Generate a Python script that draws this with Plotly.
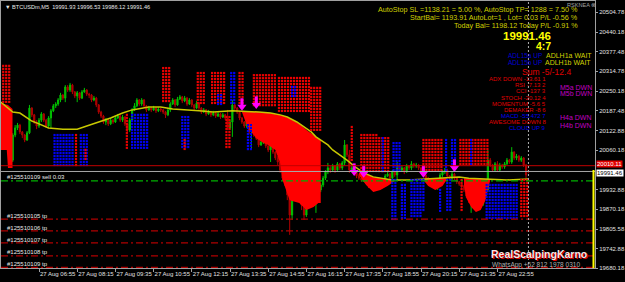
import plotly.graph_objects as go

# ---------------- data ----------------
close = [20093,20077,20099,20061,20028,20109,20132,20141,20119,20109,
 20093,20116,20196,20174,20151,20138,20157,20177,20157,20138,
 20164,20187,20203,20209,20222,20238,20228,20264,20254,20270,
 20248,20235,20245,20228,20248,20254,20241,20238,20222,20228,
 20206,20183,20170,20151,20157,20145,20157,20151,20164,20170,
 20157,20167,20145,20125,20157,20190,20203,20222,20209,20222,
 20203,20190,20196,20190,20196,20187,20193,20190,20183,20174,
 20190,20209,20222,20206,20225,20232,20219,20228,20209,20222,
 20206,20196,20212,20196,20183,20190,20177,20183,20174,20180,
 20170,20177,20167,20174,20164,20132,20151,20206,20196,20183,
 20164,20151,20138,20157,20119,20132,20109,20099,20077,20086,
 20093,20074,20061,20077,20054,20035,20022,19996,19970,19958,
 19916,19851,19990,19948,19916,19996,19883,19851,19916,19899,
 19916,19899,19958,19932,19948,19970,19990,20003,19996,20009,
 19996,20016,20003,20019,20077,20045,19996,20003,19990,19977,
 19970,19964,19977,19964,19945,19958,19938,19951,19964,19948,
 19964,19977,19983,19970,19990,19980,20009,19996,20003,19990,
 20009,20003,20016,20009,20012,20003,19990,19980,19970,19958,
 19951,19964,19945,19958,19980,19990,19996,19977,19970,19983,
 19970,19958,19951,19945,19932,19912,19899,19925,19906,19883,
 19899,19886,19912,19932,20028,20012,19996,20016,19996,20012,
 20006,20016,20028,20022,20054,20035,20041,20028,20035,20012,
 19980,19991.46]
high = [20106,20102,20106,20104,20067,20115,20141,20148,20145,20122,
 20112,20122,20206,20199,20177,20157,20164,20183,20180,20161,
 20170,20193,20209,20215,20228,20245,20241,20270,20270,20277,
 20274,20251,20251,20248,20254,20261,20257,20245,20241,20235,
 20232,20209,20187,20174,20164,20161,20164,20161,20170,20177,
 20174,20174,20170,20148,20164,20196,20212,20228,20225,20228,
 20225,20206,20203,20199,20203,20199,20199,20196,20193,20187,
 20196,20215,20228,20225,20232,20238,20235,20235,20232,20228,
 20225,20209,20219,20215,20199,20196,20193,20190,20187,20187,
 20183,20183,20180,20180,20177,20190,20157,20222,20212,20199,
 20187,20167,20154,20164,20161,20138,20135,20112,20103,20093,
 20099,20096,20077,20083,20080,20057,20041,20028,20000,19977,
 19964,19922,20006,19996,19954,20019,20000,19890,19925,19922,
 19922,19925,19974,19964,19954,19977,19996,20019,20009,20016,
 20012,20022,20019,20025,20093,20080,20061,20009,20006,19993,
 19983,19974,19983,19980,19967,19964,19961,19958,19970,19967,
 19970,19983,19990,19987,19996,19993,20022,20012,20009,20006,
 20016,20012,20025,20019,20019,20016,20006,19993,19983,19974,
 19961,19970,19967,19964,19987,19996,20003,20000,19980,19990,
 19987,19974,19961,19954,19948,19935,19916,19932,19928,19909,
 19906,19903,19919,19938,20061,20035,20016,20022,20025,20019,
 20016,20022,20035,20032,20070,20057,20048,20045,20041,20038,
 20016,19996.53]
low = [20070,20070,20070,20051,20003,20022,20102,20125,20112,20099,
 20086,20090,20112,20167,20145,20128,20132,20151,20151,20132,
 20135,20132,20183,20196,20203,20215,20222,20215,20248,20248,
 20241,20228,20215,20222,20225,20245,20235,20228,20215,20218,
 20199,20177,20164,20145,20141,20138,20141,20145,20148,20161,
 20151,20151,20138,20116,20119,20151,20187,20199,20203,20203,
 20196,20183,20187,20183,20187,20180,20183,20183,20177,20164,
 20170,20183,20206,20199,20203,20222,20212,20215,20203,20206,
 20199,20190,20193,20190,20177,20180,20170,20174,20167,20170,
 20164,20167,20161,20164,20157,20125,20125,20103,20190,20177,
 20157,20145,20132,20132,20112,20061,20103,20093,20070,20074,
 20080,20067,20054,20022,20048,20028,20012,19987,19961,19945,
 19899,19787,19835,19938,19906,19909,19867,19835,19845,19890,
 19883,19886,19858,19925,19925,19941,19964,19983,19987,19990,
 19987,19990,19996,19996,20012,20038,19987,19990,19983,19970,
 19964,19958,19958,19958,19938,19935,19932,19932,19945,19941,
 19945,19961,19974,19964,19967,19974,19964,19990,19990,19983,
 19987,19996,19996,20003,20003,19996,19983,19974,19964,19951,
 19945,19945,19938,19932,19954,19974,19983,19970,19964,19964,
 19964,19951,19945,19938,19925,19906,19890,19858,19899,19870,
 19877,19877,19880,19906,19925,20006,19990,19990,19990,19993,
 20000,20000,20012,20016,20016,20028,20028,20022,20022,20006,
 19970,19986.12]
first_open = 20080
last_open = 19991.93

ma_idx = [0,5,8,11,13,16,20,26,32,36,41,46,51,55,62,67,72,79,83,89,97,108,113,117,120,124,127,130,132,134,
          137,139,142,145,148,152,156,164,171,178,187,192,196,204,212,221]
ma_val = [20215,20183,20180,20164,20154,20145,20132,20128,20128,20138,20151,20164,20180,20190,20199,20199,20193,
          20190,20187,20183,20187,20183,20180,20174,20167,20151,20135,20119,20103,20093,20077,20061,20045,20028,
          20009,19987,19974,19964,19964,19967,19970,19974,19970,19967,19964,19967]

fillA_idx = [0, 2.5, 3, 4.9]
fillA_top = [20212, 20209, 20206, 20193]
fillA_bot = [20061, 20061, 20003, 20003]
fillB_idx = [101,103,104,107,110,112,115,117,118,121,125,128,131,133,134]
fillB_top = [20187,20186,20186,20184,20183,20181,20177,20174,20172,20162,20145,20125,20109,20099,20093]
fillB_bot = [20183,20141,20128,20099,20083,20077,20061,20019,19964,19899,19890,19867,19877,19890,19890]
fillC_idx = [150,153,156,159,162,165]
fillC_top = [19987,19983,19974,19970,19967,19964]
fillC_bot = [19980,19948,19925,19932,19945,19961]
fillD_idx = [177,179,182,185,187]
fillD_top = [19967,19970,19970,19970,19970]
fillD_bot = [19964,19945,19932,19945,19967]
fillE_idx = [194,195,197,199,201,203,205]
fillE_top = [19970,19970,19970,19970,19967,19967,19967]
fillE_bot = [19948,19906,19877,19861,19867,19899,19964]

# dot-glyph blocks: (first idx, last idx, top price, bottom price)
dots_red = [(1,4.6,20332,20215),(68,71,20325,20215),(82.5,85.5,20309,20206),(88.5,94.5,20309,20206),
            (100,102.5,20309,20206),(106,115.5,20302,20199),(116.5,129.5,20293,20180),(130,134,20261,20116),
            (147,147,20135,20028),(151,157.5,20109,19987),(158.5,162.5,20099,19987),(177,185.5,20093,19987),
            (192.5,204,20093,20006),(31.5,32.5,20109,20006),(52.8,53.8,20174,20067),(94.5,96.5,20167,20067),
            (193,193,19964,19858),(218,221,19964,19841)]
dots_blue = [(96.5,99,20309,20206),(164.5,168,20083,19987),(186.5,187.5,20093,19987),(189,191.5,20093,20006),
             (22.5,30.5,20109,20006),(33.5,37,20109,20006),(55,61.5,20174,20067),(76,79.5,20167,20061),
             (103.5,106,20141,20061),(164,165.5,19964,19835),(168,169.5,19948,19835),(172,176,19964,19845),
             (177,177,19964,19858),(184,184,19932,19858),(187,189,19964,19858),(203.5,217,19948,19841),
             (91,92.5,20238,20206),(122,124,20264,20232),(160,160,20099,19987),(197,197,20093,20006)]
dots_red_over = [(35.5,35.5,20061,20028),(77,78,20093,20061)]

arrow_idx = [101, 107, 148, 152, 177, 190]
arrow_price = [20206, 20212, 19996, 19990, 19990, 20009]

sell_price = 19961
sell_label = "#125510109 sell 0.03"
tp_prices = [19838, 19800, 19761, 19719, 19682]
tp_labels = ["#125510105 tp", "#125510106 tp", "#125510107 tp", "#125510108 tp", "#125510109 tp"]
ask_line = 20010.11
bid_line = 19991.46
now_idx = 221

x_tickvals = [0,16,32,48,64,80,96,112,128,144,160,176,192,208]
x_ticktext = ["27 Aug 2022","27 Aug 06:55","27 Aug 08:15","27 Aug 09:35","27 Aug 10:55","27 Aug 12:15",
              "27 Aug 13:35","27 Aug 14:55","27 Aug 16:15","27 Aug 17:35","27 Aug 18:55","27 Aug 20:15",
              "27 Aug 21:35","27 Aug 22:55"]
y_tickvals = [20504.78,20440.18,20377.48,20314.78,20250.18,20187.48,20122.88,20060.18,
              19932.88,19870.18,19805.58,19742.88,19680.18]

indicators = [("ADX DOWN -13.61 1", "#e00000"), ("RSI -7.13 2", "#e00000"), ("CCI -137 3", "#e00000"),
              ("STOCH -20.12 4", "#e00000"), ("MOMENTUM -5.6 5", "#e00000"), ("DEMAKER -8 6", "#e00000"),
              ("MACD -55.472 7", "#0000f0"), ("AWESOME DOWN 8", "#e00000"), ("CLOUD UP 9", "#0000f0")]

# ---------------- figure ----------------
W, H = 625, 282
ML, MR, MT, MB = 1, 30, 1, 14
PW, PH = W - ML - MR, H - MT - MB
FONT = "Liberation Sans, Arial, sans-serif"

def px(X):
    return (X - ML) / PW

def py(Y):
    return 1 - (Y - MT) / PH

n = len(close)
idx = list(range(n))
opens = [first_open] + close[:-1]
opens[-1] = last_open

fig = go.Figure()

for fi, ft, fb in [(fillA_idx, fillA_top, fillA_bot), (fillB_idx, fillB_top, fillB_bot),
                   (fillC_idx, fillC_top, fillC_bot), (fillD_idx, fillD_top, fillD_bot),
                   (fillE_idx, fillE_top, fillE_bot)]:
    fig.add_trace(go.Scatter(x=fi + fi[::-1], y=ft + fb[::-1], fill="toself", fillcolor="#ff0000",
                             mode="lines", line=dict(width=0), hoverinfo="skip"))

fig.add_trace(go.Scatter(x=ma_idx, y=ma_val, mode="lines", line=dict(color="#c8c800", width=1.5),
                         hoverinfo="skip"))

fig.add_trace(go.Candlestick(x=idx, open=opens, high=high, low=low, close=close,
                             increasing=dict(line=dict(color="#00c000", width=1), fillcolor="#00c000"),
                             decreasing=dict(line=dict(color="#b00000", width=1), fillcolor="#b00000"),
                             hoverinfo="skip"))

COL = 1.257
ROW = 9.67

def grid(blocks):
    xs, ys = [], []
    for i0, i1, ptop, pbot in blocks:
        c = i0
        while c <= i1 + 1e-6:
            p = ptop
            while p >= pbot - 1e-6:
                xs.append(c)
                ys.append(p)
                p -= ROW
            c += COL
    return xs, ys

for blocks, col in [(dots_red, "#e80000"), (dots_blue, "#0000f0"), (dots_red_over, "#e80000")]:
    gx, gy = grid(blocks)
    fig.add_trace(go.Scatter(x=gx, y=gy, mode="markers",
                             marker=dict(symbol="square", size=2.2, color=col, line=dict(width=0)),
                             hoverinfo="skip"))

# arrows: stem + head
fig.add_trace(go.Scatter(x=arrow_idx, y=[p + 8 for p in arrow_price], mode="markers",
                         marker=dict(symbol="line-ns", size=6, line=dict(color="#ff00ff", width=3)),
                         hoverinfo="skip"))
fig.add_trace(go.Scatter(x=arrow_idx, y=[p - 6 for p in arrow_price], mode="markers",
                         marker=dict(symbol="triangle-down", size=8, color="#ff00ff", line=dict(width=0)),
                         hoverinfo="skip"))

shapes = []
shapes.append(dict(type="line", xref="paper", yref="y", x0=0, x1=1, y0=ask_line, y1=ask_line,
                   line=dict(color="#c00000", width=1)))
shapes.append(dict(type="line", xref="paper", yref="y", x0=0, x1=1, y0=bid_line, y1=bid_line,
                   line=dict(color="#a8a8a8", width=1)))
shapes.append(dict(type="line", xref="paper", yref="y", x0=0, x1=1, y0=sell_price, y1=sell_price,
                   line=dict(color="#00b000", width=1.2, dash="7px,3px,2px,3px")))
for p in tp_prices:
    shapes.append(dict(type="line", xref="paper", yref="y", x0=0, x1=1, y0=p, y1=p,
                       line=dict(color="#b00000", width=1.2, dash="7px,3px,2px,3px")))
shapes.append(dict(type="line", xref="x", yref="paper", x0=now_idx, x1=now_idx, y0=0, y1=1,
                   line=dict(color="#b0b0b0", width=1, dash="2px,2px")))
shapes.append(dict(type="line", xref="paper", yref="paper", x0=px(593.5), x1=px(593.5), y0=py(170), y1=0,
                   line=dict(color="#ffff00", width=2)))

ann = []

def text(t, X, Y, size, color, anchor="left", bold=False, fam=FONT):
    if bold:
        t = "<b>" + t + "</b>"
    ann.append(dict(text=t, xref="paper", yref="paper", x=px(X), y=py(Y), xanchor=anchor,
                    yanchor="middle", showarrow=False, font=dict(size=size, color=color, family=fam)))

text("▼ BTCUSDm,M5  19991.93 19996.53 19986.12 19991.46", 3, 6.5, 5.6, "#e8e8e8")
text("RSKNEA ⊗", 565, 5, 5.6, "#a0a0a0")
text("AutoStop SL =1138.21 = 5.00 %, AutoStop TP= 1288 = 7.50 %", 580, 10, 7.2, "#d0d000", "right")
text("StartBal= 1193.91 AutoLot=1 , Lot= 0.03 P/L -0.56 %", 580, 17.5, 7.2, "#d0d000", "right")
text("Today Bal= 1198.12 Today P/L -0.91 %", 580, 25.5, 7.2, "#d0d000", "right")
text("19991.46", 553, 36, 11.5, "#ffff00", "right", True)
text("4:7", 553, 46.5, 10.5, "#ffff00", "right", True)
text("ADL15a UP", 506, 55.5, 6.5, "#0000d0")
text("ADL15b UP", 506, 62.5, 6.5, "#0000d0")
text("ADLH1a WAIT", 594, 55.5, 7, "#d0d000", "right")
text("ADLH1b WAIT", 593, 62.5, 7, "#d0d000", "right")
text("Sum -5/-12.4", 520, 71.5, 8.5, "#e00000")
for k, (t, c) in enumerate(indicators):
    text(t, 548, 79.3 + 6.07 * k, 6, c, "right")
text("M5a DWN", 594, 87, 7, "#c000c0", "right")
text("M5b DWN", 594, 94, 7, "#c000c0", "right")
text("H4a DWN", 594, 118, 7, "#c000c0", "right")
text("H4b DWN", 594, 125, 7, "#c000c0", "right")
text(sell_label, 5, 177, 6, "#e8e8e8")
for k, t in enumerate(tp_labels):
    text(t, 5, [215.5, 228, 240, 252, 264][k], 6, "#e8e8e8")
text("RealScalpingKarno", 490, 255, 10.5, "#e00000", "left", True)
text("RealScalpingKarno", 489, 254, 10.5, "#f4e8e8", "left", True)
text("WhatsApp +62 812 1978 0310", 490, 264.5, 6.5, "#b0b0b0")

# price boxes on the axis
ann.append(dict(text="20010.11", xref="paper", yref="y", x=1, y=ask_line, xanchor="left", yanchor="middle",
                xshift=1, yshift=2, showarrow=False, bgcolor="#e00000", borderpad=0,
                font=dict(size=6, color="white", family=FONT)))
ann.append(dict(text="19991.46", xref="paper", yref="y", x=1, y=bid_line, xanchor="left", yanchor="middle",
                xshift=1, yshift=-2, showarrow=False, bgcolor="#ffffff", borderpad=0,
                font=dict(size=6, color="black", family=FONT)))

fig.update_layout(
    width=W, height=H, margin=dict(l=ML, r=MR, t=MT, b=MB, autoexpand=False),
    paper_bgcolor="black", plot_bgcolor="black", showlegend=False,
    shapes=shapes, annotations=ann,
    font=dict(family=FONT, color="#e0e0e0"),
    xaxis=dict(range=[0.08, 248.88], showgrid=False, zeroline=False, tickvals=x_tickvals, ticktext=x_ticktext,
               tickangle=0, automargin=False,
               ticks="outside", ticklen=3, tickcolor="#a0a0a0", ticklabelposition="outside right",
               tickfont=dict(size=6, color="#e0e0e0"), showline=True, linecolor="#a0a0a0", mirror=True,
               rangeslider=dict(visible=False), fixedrange=True),
    yaxis=dict(range=[19680.18, 20541.2], side="right", showgrid=False, zeroline=False, tickvals=y_tickvals,
               ticktext=["%.2f" % v for v in y_tickvals], ticks="outside", ticklen=2, tickcolor="#a0a0a0",
               automargin=False,
               tickfont=dict(size=6, color="#e0e0e0"), showline=True, linecolor="#a0a0a0", mirror=True,
               fixedrange=True),
)

fig.write_html("out.html")
